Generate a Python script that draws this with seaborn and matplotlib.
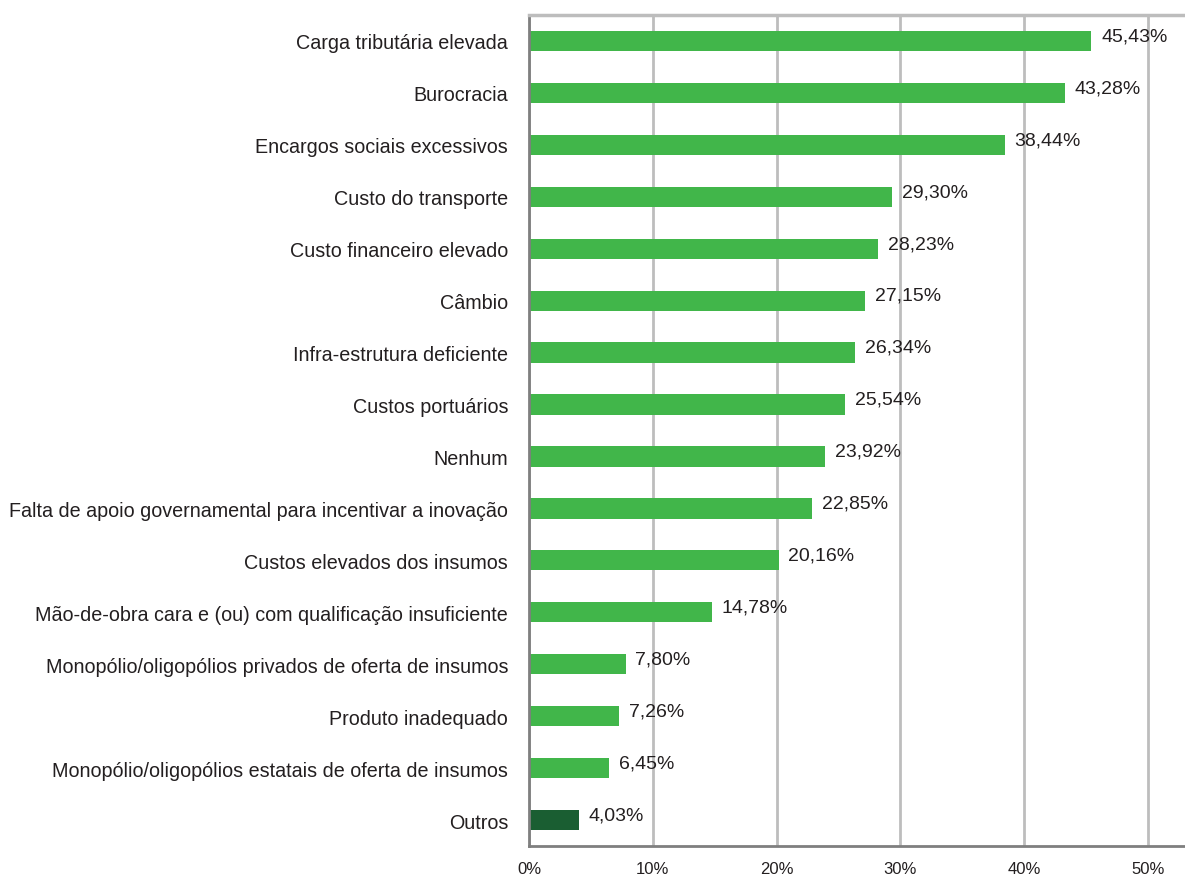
import matplotlib
matplotlib.use("Agg")
import matplotlib.pyplot as plt
import seaborn as sns
import pandas as pd
from matplotlib import font_manager

categories = [
    "Carga tributária elevada",
    "Burocracia",
    "Encargos sociais excessivos",
    "Custo do transporte",
    "Custo financeiro elevado",
    "Câmbio",
    "Infra-estrutura deficiente",
    "Custos portuários",
    "Nenhum",
    "Falta de apoio governamental para incentivar a inovação",
    "Custos elevados dos insumos",
    "Mão-de-obra cara e (ou) com qualificação insuficiente",
    "Monopólio/oligopólios privados de oferta de insumos",
    "Produto inadequado",
    "Monopólio/oligopólios estatais de oferta de insumos",
    "Outros",
]
values = [45.43, 43.28, 38.44, 29.30, 28.23, 27.15, 26.34, 25.54, 23.92,
          22.85, 20.16, 14.78, 7.80, 7.26, 6.45, 4.03]
tick_values = [0, 10, 20, 30, 40, 50]
tick_labels = ["0%", "10%", "20%", "30%", "40%", "50%"]

sns.set_style("white")
names = {f.name for f in font_manager.fontManager.ttflist}
fam = "Liberation Sans Narrow" if "Liberation Sans Narrow" in names else "Liberation Sans"
plt.rcParams["font.family"] = [fam, "DejaVu Sans"]

df = pd.DataFrame({"cat": categories, "val": values})
df["grp"] = ["outros" if c == "Outros" else "main" for c in categories]
palette = {"main": "#41B64A", "outros": "#1A5E32"}

fig = plt.figure(figsize=(11.85, 8.79), dpi=100)
ax = fig.add_axes([0.4464, 0.0364, 0.5536, 0.9454])
sns.barplot(data=df, x="val", y="cat", hue="grp", palette=palette, dodge=False,
            width=0.39, legend=False, ax=ax, orient="h", saturation=1,
            linewidth=0)
ax.set_xlim(0, 53)
ax.set_ylim(len(categories) - 0.5, -0.5)
ax.set_xticks(tick_values)
ax.set_xticklabels(tick_labels, fontsize=12, color="#231F20")
ax.set_yticks(range(len(categories)))
ax.set_yticklabels(categories, fontsize=14.2, color="#231F20")
ax.set_xlabel("")
ax.set_ylabel("")
ax.grid(axis="x", color="#BDBDBD", linewidth=2)
ax.set_axisbelow(True)

ax.spines["right"].set_visible(False)
ax.spines["top"].set_visible(True)
ax.spines["top"].set_color("#BDBDBD")
ax.spines["top"].set_linewidth(2.5)
ax.spines["left"].set_color("#7F7F7F")
ax.spines["left"].set_linewidth(2)
ax.spines["bottom"].set_color("#7F7F7F")
ax.spines["bottom"].set_linewidth(2)

# y ticks at category boundaries (minor), hide major tick marks
ax.tick_params(axis="y", which="major", length=0, pad=15)
ax.set_yticks([i + 0.5 for i in range(-1, len(categories))], minor=True)
ax.tick_params(axis="y", which="minor", length=7, width=2, color="#7F7F7F")
ax.tick_params(axis="x", which="major", length=6, width=2, color="#7F7F7F", pad=5)

for i, v in enumerate(values):
    label = f"{v:.2f}%".replace(".", ",")
    ax.text(v + 0.8, i - 0.1, label, va="center", ha="left",
            fontsize=14, color="#231F20")

fig.savefig("out.png", dpi=100)
